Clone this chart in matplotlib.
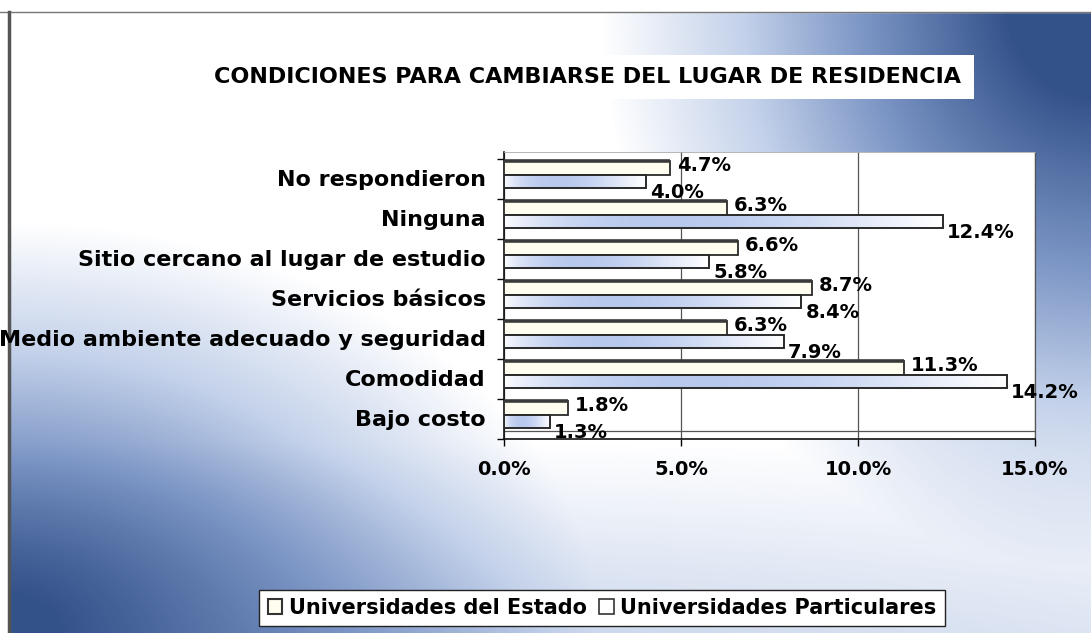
import numpy as np
import matplotlib.pyplot as plt
from matplotlib.colors import LinearSegmentedColormap
from matplotlib.patches import Patch, Rectangle

categories = ["No respondieron", "Ninguna", "Sitio cercano al lugar de estudio",
              "Servicios básicos", "Medio ambiente adecuado y seguridad",
              "Comodidad", "Bajo costo"]
estado = [4.7, 6.3, 6.6, 8.7, 6.3, 11.3, 1.8]
particulares = [4.0, 12.4, 5.8, 8.4, 7.9, 14.2, 1.3]
xticks = [0, 5, 10, 15]
series_names = ["Universidades del Estado", "Universidades Particulares"]
title = "CONDICIONES PARA CAMBIARSE DEL LUGAR DE RESIDENCIA"

plt.rcParams['font.family'] = ['DejaVu Sans']
plt.rcParams['font.weight'] = 'bold'

W, H = 1091, 633
fig = plt.figure(figsize=(W / 100, H / 100), dpi=100)

# background: blue corners (top right, bottom left) fading to white
bg = fig.add_axes([0, 0, 1, 1], zorder=-10)
yy, xx = np.mgrid[0:1:H * 1j, 0:1:W * 1j]
d1 = np.clip(1.2 * (1 - np.hypot((1 - xx) / 0.45, yy / 0.9)), 0, 1)
d2 = np.clip(1.1 * (1 - np.hypot(xx / 0.55, (1 - yy) / 0.65)), 0, 1)
d3 = np.clip((yy - 0.7) / 0.3, 0, 1) * 0.4 * (1 - 0.5 * xx)
d = 1 - (1 - d1) * (1 - d2) * (1 - d3)
cmap_bg = LinearSegmentedColormap.from_list(
    'bg', [(0, '#ffffff'), (0.35, '#c3d1ea'), (0.65, '#7a94c4'), (1, '#34528a')])
bg.imshow(d, cmap=cmap_bg, vmin=0, vmax=1, aspect='auto',
          extent=[0, 1, 0, 1], origin='upper')
# scanned page edge
bg.add_patch(Rectangle((0, 1 - 12 / H), 1, 12 / H, color='white'))
bg.add_patch(Rectangle((0, 0), 8 / W, 1, color='white'))
bg.plot([0, 1], [1 - 12 / H] * 2, color='#777777', lw=1)
bg.plot([9 / W] * 2, [0, 1 - 12 / H], color='#555555', lw=2.5)
bg.set_xlim(0, 1)
bg.set_ylim(0, 1)
bg.axis('off')

ax = fig.add_axes([504 / W, 1 - 439 / H, (1035 - 504) / W, (439 - 152) / H])
ax.set_facecolor('white')

y = np.arange(len(categories))
h = 0.34
ye = y + 0.05 + h / 2
yp = ye + h

ax.barh(ye, estado, height=h, color='#fffdf0', edgecolor='#2a2a2a',
        lw=1.3, zorder=3)
ax.hlines(ye - h / 2, 0, estado, color='#3a3a3a', lw=2.6, zorder=4)

blue = LinearSegmentedColormap.from_list('bl', ['#ffffff', '#b8c9ee'])
t = np.linspace(0, 1, 256)
grad = np.sin(np.pi * t ** 0.7)[None, :]
bars = ax.barh(yp, particulares, height=h, facecolor='none',
               edgecolor='#2a2a2a', lw=1.4, zorder=5)
for rect, v, yc in zip(bars, particulares, yp):
    im = ax.imshow(grad, cmap=blue, vmin=0, vmax=1, aspect='auto',
                   extent=[0, v, yc + h / 2, yc - h / 2], zorder=4)
    im.set_clip_path(rect)

for v, yc in zip(estado, ye):
    ax.annotate(f"{v:.1f}%", (v, yc), xytext=(5, 2), textcoords='offset points',
                ha='left', va='center', fontsize=14, fontweight='bold', zorder=6)
for v, yc in zip(particulares, yp):
    ax.annotate(f"{v:.1f}%", (v, yc), xytext=(3, -8), textcoords='offset points',
                ha='left', va='center', fontsize=14, fontweight='bold', zorder=6)

ax.axhline(6.8, color='#555555', lw=0.9, zorder=2)

ax.set_xlim(0, 15)
ax.set_ylim(7, -0.175)
ax.set_xticks(xticks)
ax.set_xticklabels([f"{v:.1f}%" for v in xticks], fontsize=14, fontweight='bold')
ax.xaxis.grid(True, color='#555555', lw=0.9)
ax.set_axisbelow(True)
ax.tick_params(axis='x', length=5, width=1, pad=10, direction='out')

ax.set_yticks(y + 0.47)
ax.set_yticklabels(categories, fontsize=16, fontweight='bold')
ax.set_yticks(np.arange(len(categories) + 1), minor=True)
ax.tick_params(axis='y', which='major', length=0, pad=13)
ax.tick_params(axis='y', which='minor', length=5, width=1, direction='out')

for s in ['left', 'bottom']:
    ax.spines[s].set_color('#111111')
    ax.spines[s].set_linewidth(1.2)
ax.spines['top'].set_color('#aaaaaa')
ax.spines['top'].set_linewidth(0.6)
ax.spines['right'].set_color('#555555')
ax.spines['right'].set_linewidth(0.9)

fig.text(588 / W, 1 - 77 / H, title, ha='center', va='center',
         fontsize=16, fontweight='bold',
         bbox=dict(facecolor='white', edgecolor='none', boxstyle='square,pad=0.55'))

handles = [Patch(facecolor='#fffdf0', edgecolor='#333333', lw=1.5),
           Patch(facecolor='white', edgecolor='#333333', lw=1.2)]
leg = fig.legend(handles, series_names, loc='center',
                 bbox_to_anchor=(602 / W, 1 - 608 / H), ncol=2, frameon=True,
                 fancybox=False, edgecolor='#222222', framealpha=1,
                 prop={'size': 15, 'weight': 'bold'},
                 handlelength=0.7, handleheight=0.7, handletextpad=0.3,
                 columnspacing=0.6, borderpad=0.4)
leg.get_frame().set_linewidth(1.0)

fig.savefig('out.png', dpi=100)
